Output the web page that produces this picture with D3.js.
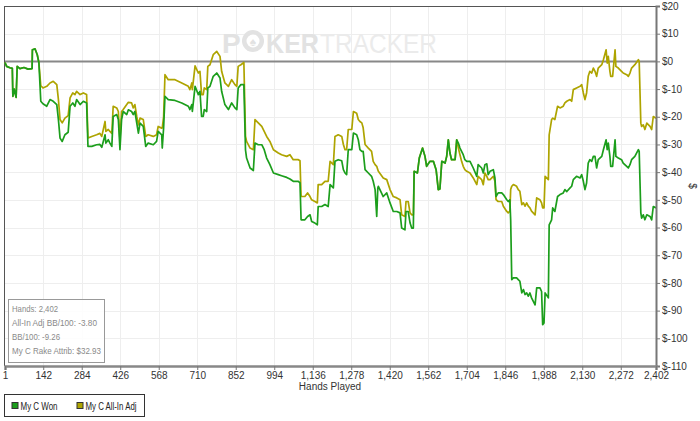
<!DOCTYPE html>
<html><head><meta charset="utf-8">
<script src="https://cdn.jsdelivr.net/npm/d3@7"></script>
<style>
html,body{margin:0;padding:0;background:#fff;}
svg{display:block;font-family:"Liberation Sans",Arial,sans-serif;}
</style></head><body>
<svg id="chart" width="700" height="421"></svg>
<script>
const hands = [1,7,19,28,30,35,42,46,56,71,86,101,102,112,120,126,133,141,155,167,179,192,198,204,212,222,234,241,251,259,265,278,290,302,307,321,339,351,358,370,373,382,388,395,400,413,419,425,431,437,450,456,468,474,480,487,493,499,511,520,529,548,560,566,579,581,586,591,603,628,653,677,683,690,692,702,714,720,726,732,736,745,749,757,769,782,794,800,812,825,837,849,856,861,871,882,888,892,905,917,923,935,948,957,966,978,991,1009,1021,1040,1052,1064,1083,1089,1093,1107,1117,1126,1132,1144,1153,1156,1169,1181,1193,1200,1212,1218,1230,1243,1249,1255,1261,1267,1280,1286,1298,1304,1310,1317,1322,1329,1341,1353,1359,1366,1372,1376,1378,1396,1409,1421,1433,1446,1458,1464,1476,1480,1488,1495,1501,1507,1510,1522,1529,1541,1550,1556,1568,1581,1591,1599,1605,1612,1624,1630,1636,1642,1648,1661,1667,1673,1679,1685,1691,1697,1704,1716,1728,1741,1746,1759,1765,1771,1778,1783,1790,1802,1808,1812,1820,1833,1839,1851,1857,1863,1866,1870,1876,1888,1894,1900,1907,1913,1919,1925,1931,1937,1943,1956,1962,1974,1980,1984,1989,1993,2005,2008,2017,2021,2029,2039,2048,2060,2066,2073,2085,2091,2097,2109,2122,2128,2134,2140,2146,2152,2158,2165,2171,2177,2183,2189,2202,2208,2218,2222,2226,2232,2235,2242,2251,2254,2263,2275,2281,2294,2300,2306,2312,2324,2337,2340,2346,2349,2355,2361,2368,2380,2386,2392,2402];

const won = [-0.4,-1.8,-2.3,-2.5,-12.6,-10,-13,-1.8,-2.6,-2.2,-2.8,-2.6,4.2,4.5,2.4,-0.5,-14.4,-15.3,-16.2,-13.8,-14.4,-15.6,-21,-27.7,-28.9,-26.5,-25.6,-16.2,-15,-16.2,-13.8,-15.6,-14.4,-15,-30.7,-30.7,-30.1,-30,-31,-26.5,-29.5,-28.3,-29.5,-30.7,-19.9,-19.2,-21,-31.9,-21,-18.1,-19.2,-17.5,-18.1,-19.2,-18.1,-22.3,-25.9,-22.3,-23.5,-30.7,-29.5,-30.1,-28.9,-25.3,-26.5,-31.3,-24,-12.6,-13.8,-14.1,-15,-16.2,-17.4,-15.6,-18.1,-9,-12,-10.8,-19.9,-19.9,-17.4,-18.1,-9.6,-9,-5.4,-4.2,-6,-10.8,-15.6,-17.4,-15,-16.8,-17.4,-9.6,-8.4,-8.4,-32,-34.9,-38.5,-39.4,-29.5,-30.1,-30.1,-31.9,-34.9,-37.3,-40.3,-40.9,-41.3,-41.9,-42.5,-43.3,-43.3,-43.9,-57.2,-57.2,-56,-55.4,-57.8,-58.4,-59,-52.4,-52.4,-51.7,-52.4,-44.5,-45.7,-36.1,-35.5,-35.9,-39.1,-40.3,-40.9,-31.9,-31.9,-25.9,-26.5,-28.3,-31.9,-32.5,-32.5,-39.1,-40.3,-41.5,-43.3,-46.3,-56,-45.7,-45.1,-48.8,-47.5,-51.1,-54.2,-54.2,-54.7,-60.2,-60.8,-54.2,-54.2,-58.4,-60.2,-60.2,-39.7,-40.3,-34.9,-31.3,-34.3,-37.9,-36.1,-36.1,-39.1,-46.3,-46.1,-36.1,-36.7,-34.3,-28.3,-33.1,-35.5,-35.5,-28.3,-29.5,-31.3,-32.5,-33.7,-35.5,-36.1,-36.1,-38.5,-41.5,-37.3,-38.5,-40.3,-37.3,-37,-40.9,-39.7,-39.1,-42.1,-48.8,-47.5,-47.5,-48.1,-49.9,-50.6,-50,-57.2,-78.8,-78.2,-78.2,-78.8,-79.4,-83.6,-82.4,-84.2,-83.6,-84.8,-83.6,-85.4,-87.9,-81.8,-81.8,-83.1,-95.1,-94.5,-83.6,-85.4,-59,-57.2,-52.9,-54.2,-48.8,-48.1,-47.5,-46.3,-47,-45.7,-45.1,-42.7,-41.5,-42.1,-40.9,-43.3,-46.3,-43.9,-36.7,-35.5,-36.1,-34.3,-34.3,-38.5,-35.5,-34.3,-31.9,-28.3,-31.9,-29.5,-34.3,-37.9,-37.9,-28.3,-34.3,-34.9,-35.5,-36.7,-37.9,-38.5,-37.3,-35.5,-34.3,-31.9,-32.5,-54.7,-56.6,-55.4,-57.2,-55.4,-56,-57.2,-52.4,-52.9];

const allIn = [-0.4,-1.8,-2.3,-2.5,-12.6,-10,-13,-1.8,-2.6,-2.2,-2.8,-2.6,4.2,4.5,2.4,-0.5,-8.8,-9.6,-9,-7.8,-7.2,-8.4,-13.8,-21,-22.2,-20.5,-19.6,-13.2,-11.4,-12,-10.8,-12,-11.4,-12,-27.7,-27.1,-26.5,-26,-27.1,-21.7,-25.3,-24.6,-25.3,-26,-16.2,-16.8,-18.1,-28.3,-18.1,-17.4,-15.6,-14.8,-15,-16.8,-15.6,-19.9,-22.9,-20.5,-21,-27.1,-26.5,-27.1,-26.5,-23.5,-24.1,-24,-20,-4.8,-6.6,-6.6,-7.8,-9,-10.2,-7.8,-10.2,-1.6,-4.2,-3.6,-12,-12,-9.6,-10.2,-1.8,-1.2,2.4,3.6,1.8,-3.6,-7.8,-9,-6.6,-8.4,-9,-1.8,-1.2,-0.4,-27,-28.9,-31.3,-31.9,-21,-22.2,-23.5,-25.3,-27.1,-28.9,-31.9,-33.1,-33.7,-34.3,-33.7,-35.5,-35.5,-35.9,-48.8,-48.8,-47.5,-48.8,-50,-50.6,-51.1,-44.5,-44.5,-43.3,-43.3,-36.1,-37.3,-27.1,-26.5,-27.1,-30,-31.9,-31.9,-24.6,-24.6,-18.1,-18.7,-21,-21.7,-22.2,-24,-30,-31.3,-32.5,-36.1,-37.3,-37.9,-39.1,-39.7,-42.1,-42.7,-46.3,-48.8,-49.3,-50,-55.4,-56,-50.6,-50.6,-54.7,-55.4,-55.4,-39.7,-40.3,-34.9,-31.3,-34.3,-37.9,-36.1,-36.1,-39.1,-46.3,-46.1,-36.1,-36.7,-34.3,-28.3,-33.1,-35.5,-35.5,-28.3,-31.3,-33.7,-36.1,-37.9,-39.1,-39.7,-40.3,-42.1,-44.5,-41.5,-42.7,-44.5,-40.3,-41.5,-42.7,-42.7,-41.5,-43.3,-49.9,-50.6,-50.6,-52.3,-54.1,-54.7,-54.1,-46.3,-45.1,-44.5,-45.1,-46.3,-46.9,-51.7,-51.1,-52.3,-51.1,-52.3,-52.9,-54.1,-55.4,-49.3,-50,-51.1,-52.9,-52.9,-41.5,-42.7,-26.5,-21,-20.5,-21,-16.2,-16.8,-16.2,-15,-14.4,-13.8,-14.4,-10.2,-9.6,-9,-8.4,-11.4,-13.8,-11.4,-5.4,-3.6,-4.2,-2.4,-3.6,-5.4,-2.4,-1.2,0.6,4.2,-0.6,1.8,-3.6,-5.4,-5.4,4.2,-1.8,-2.4,-3.6,-4.2,-4.8,-5.4,-4.2,-2.4,-1.2,0.6,0,-22.3,-23.5,-22.9,-24.6,-22.3,-23.5,-24.6,-19.9,-20.5];

const xTicks = [1,142,284,426,568,710,852,994,1136,1278,1420,1562,1704,1846,1988,2130,2272,2402];
const yTicks = [20,10,0,-10,-20,-30,-40,-50,-60,-70,-80,-90,-100,-110];
const seriesNames = ["My C Won","My C All-In Adj"];
const seriesColors = ["#1c9e1c","#aea400"];
const statsLines = ["Hands: 2,402","All-In Adj BB/100: -3.80","BB/100: -9.26","My C Rake Attrib: $32.93"];

const svg = d3.select("#chart");
const L = 5, R = 656, T = 6, B = 366;
const x = d3.scaleLinear().domain([1,2402]).range([L,R]);
const y = d3.scaleLinear().domain([-110,20]).range([B,T]);

// grid
svg.append("g").selectAll("line").data(xTicks.slice(1,-1)).join("line")
  .attr("x1",d=>Math.round(x(d))+0.5).attr("x2",d=>Math.round(x(d))+0.5)
  .attr("y1",T).attr("y2",B).attr("stroke","#eeeeee").attr("stroke-width",1);
svg.append("g").selectAll("line").data(yTicks.filter(v=>v!==20&&v!==-110&&v!==0)).join("line")
  .attr("x1",L).attr("x2",R).attr("y1",d=>Math.round(y(d))+0.5).attr("y2",d=>Math.round(y(d))+0.5)
  .attr("stroke","#eeeeee").attr("stroke-width",1);

// watermark
const wm = svg.append("g");
const wmFont = "Liberation Sans, Arial, sans-serif";
wm.append("text").attr("x",222).attr("y",53).attr("font-family",wmFont)
  .attr("font-weight","bold").attr("font-size",28).attr("fill","#e2e2e2").text("P");
wm.append("circle").attr("cx",253).attr("cy",41).attr("r",11).attr("fill","#e2e2e2");
wm.append("circle").attr("cx",253).attr("cy",41).attr("r",6.5).attr("fill","#fff");
wm.append("text").attr("x",253).attr("y",46).attr("text-anchor","middle").attr("font-size",12).attr("fill","#e2e2e2").text("\u2660");
wm.append("text").attr("x",266).attr("y",53).attr("font-family",wmFont)
  .attr("font-weight","bold").attr("font-size",28).attr("fill","#e2e2e2")
  .attr("textLength",53).attr("lengthAdjust","spacingAndGlyphs").text("KER");
wm.append("text").attr("x",320).attr("y",53).attr("font-family",wmFont)
  .attr("font-size",28).attr("fill","#ebebeb")
  .attr("textLength",117).attr("lengthAdjust","spacingAndGlyphs").text("TRACKER");

// frame
svg.append("line").attr("x1",L).attr("x2",R).attr("y1",T+0.5).attr("y2",T+0.5).attr("stroke","#555").attr("stroke-width",1);
svg.append("line").attr("x1",L-0.5).attr("x2",L-0.5).attr("y1",T).attr("y2",B).attr("stroke","#555").attr("stroke-width",1);

// zero line
svg.append("line").attr("x1",L).attr("x2",R).attr("y1",y(0)).attr("y2",y(0)).attr("stroke","#888").attr("stroke-width",2);

// lines
const line = d3.line().x(d=>x(d[0])).y(d=>y(d[1]));
const dataAll = hands.map((h,i)=>[h,allIn[i]]);
const dataWon = hands.map((h,i)=>[h,won[i]]);
svg.append("path").datum(dataAll).attr("d",line).attr("fill","none").attr("stroke",seriesColors[1]).attr("stroke-width",1.7).attr("stroke-linejoin","round");
svg.append("path").datum(dataWon).attr("d",line).attr("fill","none").attr("stroke",seriesColors[0]).attr("stroke-width",1.7).attr("stroke-linejoin","round");

// right axis
const yAxis = d3.axisRight(y).tickValues(yTicks).tickSize(4).tickPadding(2)
  .tickFormat(d=>"$"+d);
const ya = svg.append("g").attr("transform",`translate(${R},0)`).call(yAxis);
ya.select(".domain").attr("stroke","#777").attr("stroke-width",2);
ya.selectAll(".tick line").attr("stroke","#777");
ya.selectAll("text").attr("font-size",10).attr("fill","#333").attr("font-family",wmFont);

// bottom axis
const xAxis = d3.axisBottom(x).tickValues(xTicks).tickSize(4).tickPadding(2).tickFormat(d3.format(","));
const xa = svg.append("g").attr("transform",`translate(0,${B})`).call(xAxis);
xa.select(".domain").attr("stroke","#888").attr("stroke-width",2.5);
xa.selectAll(".tick line").attr("stroke","#777");
xa.selectAll("text").attr("font-size",10).attr("fill","#333").attr("font-family",wmFont);

// axis titles
svg.append("text").attr("x",330).attr("y",390).attr("text-anchor","middle").attr("font-size",10).attr("fill","#333").text("Hands Played");
svg.append("text").attr("transform","translate(689,186) rotate(90)").attr("text-anchor","middle").attr("font-size",10).attr("fill","#333").text("$");

// stats box
const statsW = [46,85,48,89];
const sb = svg.append("g");
sb.append("rect").attr("x",8.5).attr("y",299.5).attr("width",96).attr("height",63).attr("fill","#fff").attr("fill-opacity",0.85).attr("stroke","#999");
sb.selectAll("text").data(statsLines).join("text")
  .attr("x",12).attr("y",(d,i)=>312+i*14).attr("font-size",9.8).attr("fill","#8a8a8a")
  .attr("textLength",(d,i)=>statsW[i]).attr("lengthAdjust","spacingAndGlyphs").text(d=>d);

// legend
const lg = svg.append("g");
lg.append("rect").attr("x",4.5).attr("y",394.5).attr("width",140).attr("height",22).attr("fill","#fff").attr("stroke","#333");
const lx = [11.5,76.5];
const lw = [37,51];
seriesNames.forEach((n,i)=>{
  lg.append("rect").attr("x",lx[i]+0.5).attr("y",402.5).attr("width",6).attr("height",6).attr("fill",seriesColors[i]).attr("stroke","#333");
  lg.append("text").attr("x",lx[i]+9).attr("y",410).attr("font-size",10).attr("fill","#222")
    .attr("textLength",lw[i]).attr("lengthAdjust","spacingAndGlyphs").text(n);
});
</script>
</body></html>
